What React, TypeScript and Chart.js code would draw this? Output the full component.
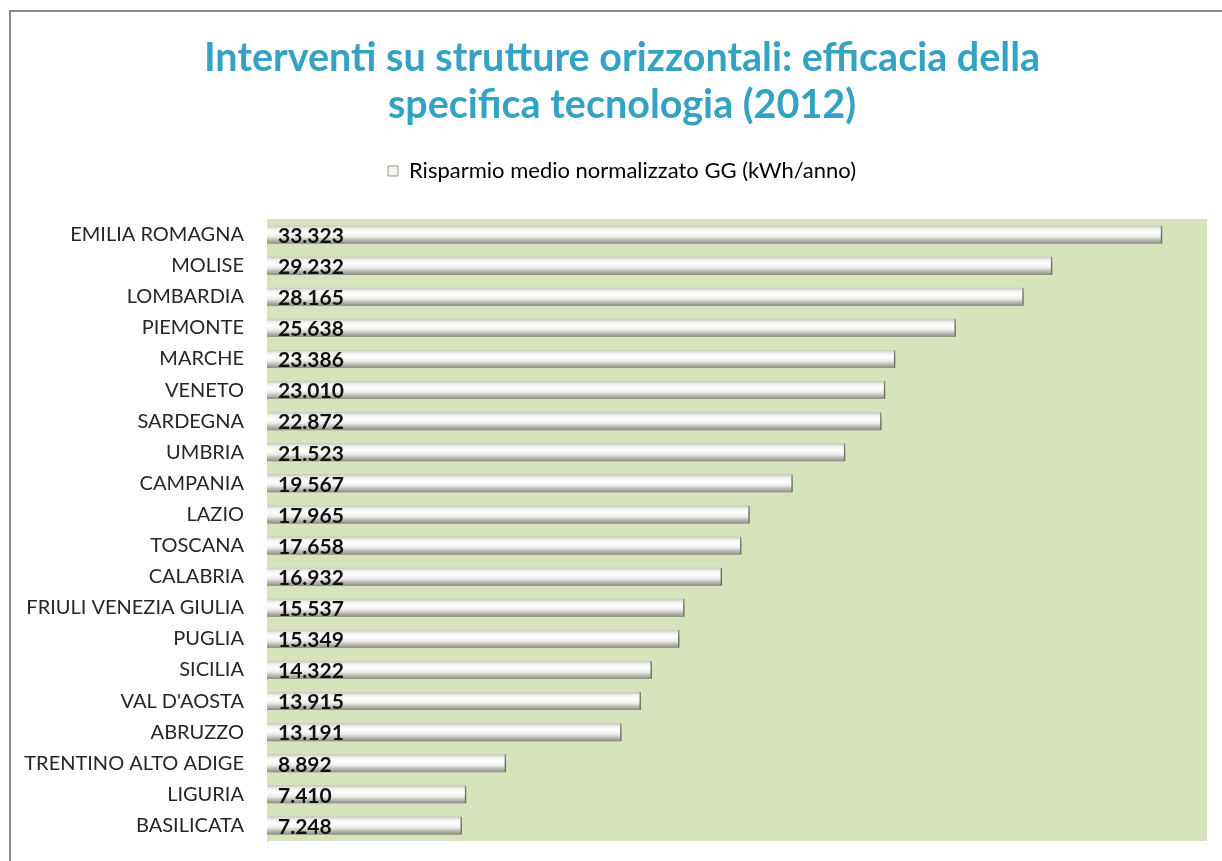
import { useEffect, useRef } from "react";
import { Chart, registerables } from "chart.js";

Chart.register(...registerables);

const regions = [
  "EMILIA ROMAGNA",
  "MOLISE",
  "LOMBARDIA",
  "PIEMONTE",
  "MARCHE",
  "VENETO",
  "SARDEGNA",
  "UMBRIA",
  "CAMPANIA",
  "LAZIO",
  "TOSCANA",
  "CALABRIA",
  "FRIULI VENEZIA GIULIA",
  "PUGLIA",
  "SICILIA",
  "VAL D'AOSTA",
  "ABRUZZO",
  "TRENTINO ALTO ADIGE",
  "LIGURIA",
  "BASILICATA",
];

const savings = [
  33323, 29232, 28165, 25638, 23386, 23010, 22872, 21523, 19567, 17965,
  17658, 16932, 15537, 15349, 14322, 13915, 13191, 8892, 7410, 7248,
];

const titleLines = [
  "Interventi su strutture orizzontali: efficacia della",
  "specifica tecnologia (2012)",
];
const seriesLabel = "Risparmio medio normalizzato GG (kWh/anno)";
const axisMin = 0;
const axisMax = 35000;

const fmt = (v: number) => {
  const s = Math.round(v).toString();
  return s.replace(/\B(?=(\d{3})+(?!\d))/g, ".");
};

const FONT = "Lato, 'Open Sans', sans-serif";

export default function App() {
  const ref = useRef<HTMLCanvasElement | null>(null);

  useEffect(() => {
    const canvas = ref.current;
    if (!canvas) return;

    const plotBg = {
      id: "plotBg",
      afterLayout(chart: any) {
        // let the category labels extend left of the layout padding (no clipping)
        const ys = chart.scales.y;
        if (ys) ys.left = 0;
      },
      beforeDatasetsDraw(chart: any) {
        const { ctx, chartArea } = chart;
        ctx.save();
        ctx.fillStyle = "#d7e3bc";
        ctx.fillRect(
          chartArea.left,
          chartArea.top,
          chartArea.right - chartArea.left,
          chartArea.bottom - chartArea.top
        );
        ctx.restore();
        ctx.save();
        ctx.shadowColor = "rgba(80,88,60,0.65)";
        ctx.shadowOffsetX = 2;
        ctx.shadowOffsetY = 4;
        ctx.shadowBlur = 5;
      },
      afterDatasetsDraw(chart: any) {
        const { ctx, chartArea } = chart;
        ctx.restore();
        const meta = chart.getDatasetMeta(0);
        ctx.save();
        ctx.font = `bold 21px ${FONT}`;
        ctx.fillStyle = "#111111";
        ctx.textAlign = "left";
        ctx.textBaseline = "middle";
        meta.data.forEach((el: any, i: number) => {
          const v = chart.data.datasets[0].data[i] as number;
          ctx.fillText(fmt(v), chartArea.left + 11, el.y + 1.5);
        });
        ctx.restore();
      },
    };

    const chart = new Chart(canvas, {
      type: "bar",
      data: {
        labels: regions,
        datasets: [
          {
            label: seriesLabel,
            data: savings,
            barThickness: 18,
            borderWidth: { top: 0, left: 0, bottom: 0, right: 1.5 },
            borderColor: "#8a8a80",
            borderSkipped: false,
            backgroundColor: (c: any) => {
              const chart = c.chart;
              const ys = chart.scales && chart.scales.y;
              if (!ys || c.dataIndex === undefined) return "#f0f0f0";
              const mid = ys.getPixelForValue(c.dataIndex);
              const g = chart.ctx.createLinearGradient(0, mid - 9, 0, mid + 9);
              g.addColorStop(0, "#c8c8c0");
              g.addColorStop(0.2, "#f4f4f2");
              g.addColorStop(0.4, "#ffffff");
              g.addColorStop(0.62, "#ececea");
              g.addColorStop(0.85, "#b0b0a6");
              g.addColorStop(1, "#8c8c82");
              return g;
            },
          },
        ],
      },
      options: {
        indexAxis: "y",
        animation: false,
        responsive: false,
        maintainAspectRatio: false,
        layout: { padding: { left: 37, right: 15, top: 0, bottom: 20 } },
        scales: {
          x: {
            position: "top",
            display: true,
            min: axisMin,
            max: axisMax,
            grid: { display: false, drawTicks: false },
            border: { display: false },
            ticks: { display: false },
            afterFit(scale: any) {
              scale.height = 27;
            },
          },
          y: {
            grid: { display: false, drawTicks: true, tickLength: 20 },
            border: { display: true, color: "#b8c2a0", width: 1 },
            ticks: {
              color: "#262626",
              padding: 3,
              font: { family: FONT, size: 20 },
            },
            afterFit(scale: any) {
              scale.width = 230;
            },
          },
        },
        plugins: {
          title: {
            display: true,
            text: titleLines,
            color: "#34a2c2",
            font: { family: FONT, size: 39.5, weight: "bold", lineHeight: 1.19 },
            padding: { top: 35, bottom: 6 },
          },
          legend: {
            display: true,
            position: "top",
            labels: {
              color: "#333333",
              font: { family: FONT, size: 22 },
              boxWidth: 10,
              boxHeight: 10,
              padding: 25,
              generateLabels: () => [
                {
                  text: seriesLabel,
                  fillStyle: "#f4f4f0",
                  strokeStyle: "#9a9a92",
                  lineWidth: 1,
                  hidden: false,
                  datasetIndex: 0,
                },
              ],
            },
          },
          tooltip: { enabled: false },
        },
      },
      plugins: [plotBg],
    });

    return () => chart.destroy();
  }, []);

  return (
    <div style={{ position: "fixed", left: 0, top: 0, width: 1222, height: 861, background: "#ffffff", overflow: "hidden" }}>
      <div
        style={{
          position: "absolute",
          left: 9,
          top: 10,
          width: 1300,
          height: 900,
          borderLeft: "2px solid #8a8a8a",
          borderTop: "2px solid #8a8a8a",
        }}
      />
      <canvas ref={ref} width={1222} height={861} style={{ position: "absolute", left: 0, top: 0 }} />
    </div>
  );
}
